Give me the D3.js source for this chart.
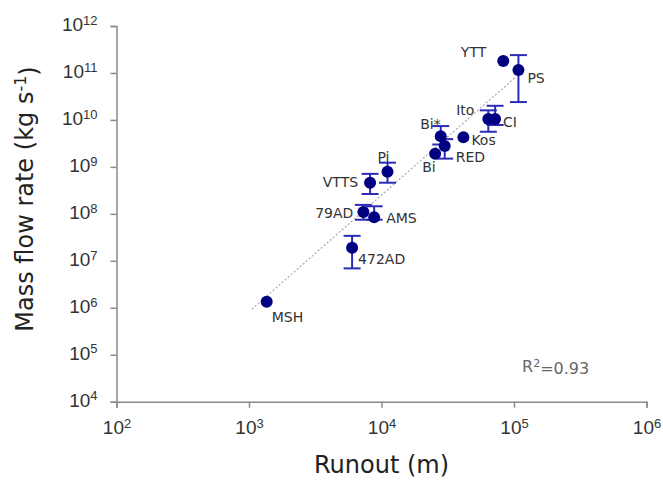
<!DOCTYPE html>
<html>
<head>
<meta charset="utf-8">
<script src="https://cdn.jsdelivr.net/npm/d3@7"></script>
<style>
  body { margin: 0; background: #fff; }
  svg { font-family: "DejaVu Sans", sans-serif; }
  .axis path, .axis line { stroke: #8a8a8a; stroke-width: 1.5; }
  .axis text { fill: #333; font-size: 19px; }
</style>
</head>
<body>
<svg id="chart"></svg>
<script>
// données (runout en m, débit massique en kg/s)
var names    = ["MSH", "472AD", "79AD", "AMS", "VTTS", "Pi", "Bi", "RED", "Bi*", "Kos", "Ito", "CI", "YTT", "PS"];
var runout   = [1.36e3, 6.0e3, 7.3e3, 8.8e3, 8.2e3, 1.11e4, 2.54e4, 3.0e4, 2.8e4, 4.15e4, 6.4e4, 7.2e4, 8.3e4, 1.08e5];
var massFlow = [1.35e6, 1.9e7, 1.1e8, 8.5e7, 4.6e8, 7.9e8, 1.9e9, 2.8e9, 4.5e9, 4.3e9, 1.05e10, 1.05e10, 1.8e11, 1.16e11];
var errLow   = [null, 6.9e6, 7.5e7, 7.5e7, 2.65e8, 4.6e8, null, 1.5e9, 3.0e9, null, 5.6e9, 7.8e9, null, 2.4e10];
var errHigh  = [null, 3.4e7, 1.55e8, 1.45e8, 7.1e8, 1.23e9, null, 3.9e9, 7.4e9, null, 1.6e10, 2.0e10, null, 2.4e11];
var xTicks = [1e2, 1e3, 1e4, 1e5, 1e6];
var yTicks = [1e4, 1e5, 1e6, 1e7, 1e8, 1e9, 1e10, 1e11, 1e12];
// droite de régression (extrémités lues)
var fitRunout = [1.05e3, 1.035e5];
var fitFlow   = [9.3e5, 8.3e10];
var rSquared = "0.93";

// placement des étiquettes autour des points
var labelPos = {
    "MSH":   {dx: 5,   dy: 20, anchor: "start"},
    "472AD": {dx: 6,   dy: 16, anchor: "start"},
    "79AD":  {dx: -10, dy: 6,  anchor: "end"},
    "AMS":   {dx: 12,  dy: 6,  anchor: "start"},
    "VTTS":  {dx: -12, dy: 4,  anchor: "end"},
    "Pi":    {dx: -4,  dy: -10, anchor: "middle"},
    "Bi":    {dx: -13, dy: 18, anchor: "start"},
    "RED":   {dx: 11,  dy: 16, anchor: "start"},
    "Bi*":   {dx: 0,   dy: -7, anchor: "end"},
    "Kos":   {dx: 8,   dy: 8,  anchor: "start"},
    "Ito":   {dx: -14, dy: -4, anchor: "end"},
    "CI":    {dx: 8,   dy: 8,  anchor: "start"},
    "YTT":   {dx: -17, dy: -4, anchor: "end"},
    "PS":    {dx: 9,   dy: 13, anchor: "start"}
};

var svg = d3.select("#chart").attr("width", 663).attr("height", 481);
var x = d3.scaleLog().domain([1e2, 1e6]).range([116.5, 646.5]);
var y = d3.scaleLog().domain([1e4, 1e12]).range([401.7, 26]);

var data = names.map(function(n, i) {
    return {name: n, x: runout[i], y: massFlow[i], lo: errLow[i], hi: errHigh[i]};
});

// puissances de 10 avec exposant en exposant
function pow10(sel) {
    sel.each(function(d) {
        var t = d3.select(this);
        t.text("10");
        t.append("tspan")
            .attr("dy", "-0.5em")
            .style("font-size", "13px")
            .text(Math.round(Math.log10(d)));
    });
}

var gx = svg.append("g")
    .attr("class", "axis")
    .attr("transform", "translate(0," + 401.7 + ")")
    .call(d3.axisBottom(x).tickValues(xTicks).tickSizeOuter(0).tickSize(6).tickPadding(13));
gx.selectAll(".tick text").call(pow10);

var gy = svg.append("g")
    .attr("class", "axis")
    .attr("transform", "translate(" + 116.5 + ",0)")
    .call(d3.axisLeft(y).tickValues(yTicks).tickSizeOuter(0).tickSize(6).tickPadding(13));
gy.selectAll(".tick text").attr("dy", "0.25em").call(pow10);

// droite de tendance
svg.append("line")
    .attr("x1", x(fitRunout[0])).attr("y1", y(fitFlow[0]))
    .attr("x2", x(fitRunout[1])).attr("y2", y(fitFlow[1]))
    .attr("stroke", "#aaa")
    .attr("stroke-width", 1.2)
    .attr("stroke-dasharray", "2,2");

// barres d'erreur
var eb = svg.append("g").selectAll("g")
    .data(data.filter(function(d) { return d.lo !== null; }))
    .enter().append("g")
    .attr("stroke", "#2b2bb8")
    .attr("stroke-width", 2);
eb.append("line")
    .attr("x1", function(d) { return x(d.x); })
    .attr("x2", function(d) { return x(d.x); })
    .attr("y1", function(d) { return y(d.lo); })
    .attr("y2", function(d) { return y(d.hi); });
eb.selectAll(".cap")
    .data(function(d) { return [{x: d.x, v: d.lo}, {x: d.x, v: d.hi}]; })
    .enter().append("line")
    .attr("class", "cap")
    .attr("x1", function(d) { return x(d.x) - 8.5; })
    .attr("x2", function(d) { return x(d.x) + 8.5; })
    .attr("y1", function(d) { return y(d.v); })
    .attr("y2", function(d) { return y(d.v); });

// points
svg.append("g").selectAll("circle")
    .data(data)
    .enter().append("circle")
    .attr("cx", function(d) { return x(d.x); })
    .attr("cy", function(d) { return y(d.y); })
    .attr("r", 6)
    .attr("fill", "#000080");

// étiquettes
svg.append("g").selectAll("text")
    .data(data)
    .enter().append("text")
    .attr("x", function(d) { return x(d.x) + labelPos[d.name].dx; })
    .attr("y", function(d) { return y(d.y) + labelPos[d.name].dy; })
    .attr("text-anchor", function(d) { return labelPos[d.name].anchor; })
    .attr("fill", "#333")
    .style("font-size", "14px")
    .text(function(d) { return d.name; });

// R²
var r2 = svg.append("text")
    .attr("x", 522)
    .attr("y", 372)
    .attr("fill", "#666")
    .style("font-size", "16px")
    .text("R");
r2.append("tspan").attr("dy", "-0.45em").style("font-size", "11px").text("2");
r2.append("tspan").attr("dy", "0.45em").text("=" + rSquared);

// titres des axes
svg.append("text")
    .attr("x", 381.5)
    .attr("y", 473)
    .attr("text-anchor", "middle")
    .attr("fill", "#222")
    .style("font-size", "24px")
    .text("Runout (m)");

var yl = svg.append("text")
    .attr("transform", "translate(33,199) rotate(-90)")
    .attr("text-anchor", "middle")
    .attr("fill", "#222")
    .style("font-size", "24px")
    .text("Mass flow rate (kg s");
yl.append("tspan").attr("dy", "-0.45em").style("font-size", "16px").text("-1");
yl.append("tspan").attr("dy", "0.45em").text(")");
</script>
</body>
</html>
